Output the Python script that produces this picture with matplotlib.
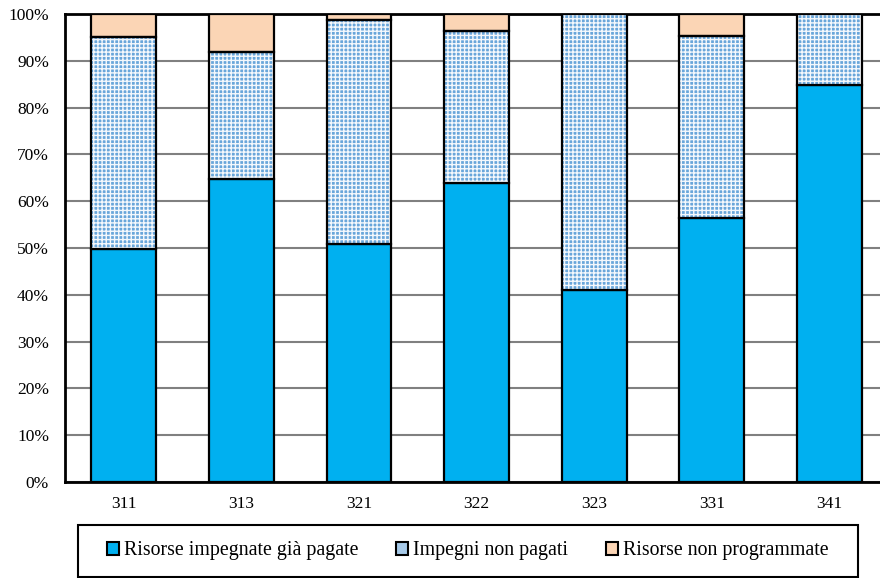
import numpy as np
import matplotlib
matplotlib.use("Agg")
import matplotlib.pyplot as plt
from matplotlib.patches import Patch

# data (percent)
categories = ["311", "313", "321", "322", "323", "331", "341"]
paid = [49.8, 64.7, 50.9, 63.9, 41.0, 56.4, 84.8]
unpaid = [45.3, 27.2, 47.8, 32.5, 59.0, 38.9, 15.2]
not_prog = [4.9, 8.1, 1.3, 3.6, 0.0, 4.7, 0.0]

labels = ["Risorse impegnate già pagate", "Impegni non pagati", "Risorse non programmate"]

plt.rcParams['font.family'] = ['Liberation Serif', 'DejaVu Serif']
plt.rcParams['hatch.linewidth'] = 1.0

W, H = 880, 578
fig = plt.figure(figsize=(W / 100, H / 100), dpi=100)
ax = fig.add_axes([65 / W, (H - 482) / H, (880 - 65) / W, (482 - 14) / H])

x = np.arange(len(categories))
bw = 0.55
paid = np.array(paid)
unpaid = np.array(unpaid)
not_prog = np.array(not_prog)

blue = "#00B0F0"
peach = "#FBD5B5"
pat_face = "#69a6da"
pat_hatch = "#f4f8fc"

ax.bar(x, paid, bw, color=blue, edgecolor="black", linewidth=1.6, zorder=3)
# patterned middle segment: hatch layer, then black outline
ax.bar(x, unpaid, bw, bottom=paid, facecolor=pat_face, edgecolor=pat_hatch,
       hatch="++++", linewidth=0, zorder=3)
ax.bar(x, unpaid, bw, bottom=paid, facecolor="none", edgecolor="black",
       linewidth=1.6, zorder=4)
mask = not_prog > 0
ax.bar(x[mask], not_prog[mask], bw, bottom=(paid + unpaid)[mask], color=peach,
       edgecolor="black", linewidth=1.6, zorder=3)

ax.set_xlim(-0.5, (880 - 65) / 117.6 - 0.5)
ax.set_ylim(0, 100)
ax.set_yticks(np.arange(0, 101, 10))
ax.set_yticklabels([f"{v}%" for v in range(0, 101, 10)])
ax.set_xticks(x)
ax.set_xticklabels(categories)
ax.tick_params(axis='both', length=0, labelsize=12.5, colors="black")
ax.tick_params(axis='x', pad=10)
ax.tick_params(axis='y', pad=11.5)
ax.yaxis.grid(True, color="#808080", linewidth=1.5, zorder=0)
ax.set_axisbelow(True)

ax.spines["right"].set_visible(False)
for s in ["left", "bottom", "top"]:
    ax.spines[s].set_linewidth(2)
    ax.spines[s].set_color("black")

handles = [
    Patch(facecolor=blue, edgecolor="black", linewidth=1.5),
    Patch(facecolor="#a6c9e8", edgecolor="black", linewidth=1.5),
    Patch(facecolor=peach, edgecolor="black", linewidth=1.5),
]
leg = fig.legend(handles, labels, loc="center",
                 bbox_to_anchor=(468 / W, (H - 551) / H),
                 ncol=3, fontsize=14.3, frameon=False,
                 handlelength=0.6, handleheight=0.6, handletextpad=0.25,
                 columnspacing=1.9, borderpad=0, borderaxespad=0)
# legend frame box drawn in figure pixels
fig.patches.append(plt.Rectangle((78 / W, (H - 577) / H), (858 - 78) / W, (577 - 525) / H,
                                 transform=fig.transFigure, fill=False,
                                 edgecolor="black", linewidth=1.5))

fig.savefig("out.png", dpi=100)
